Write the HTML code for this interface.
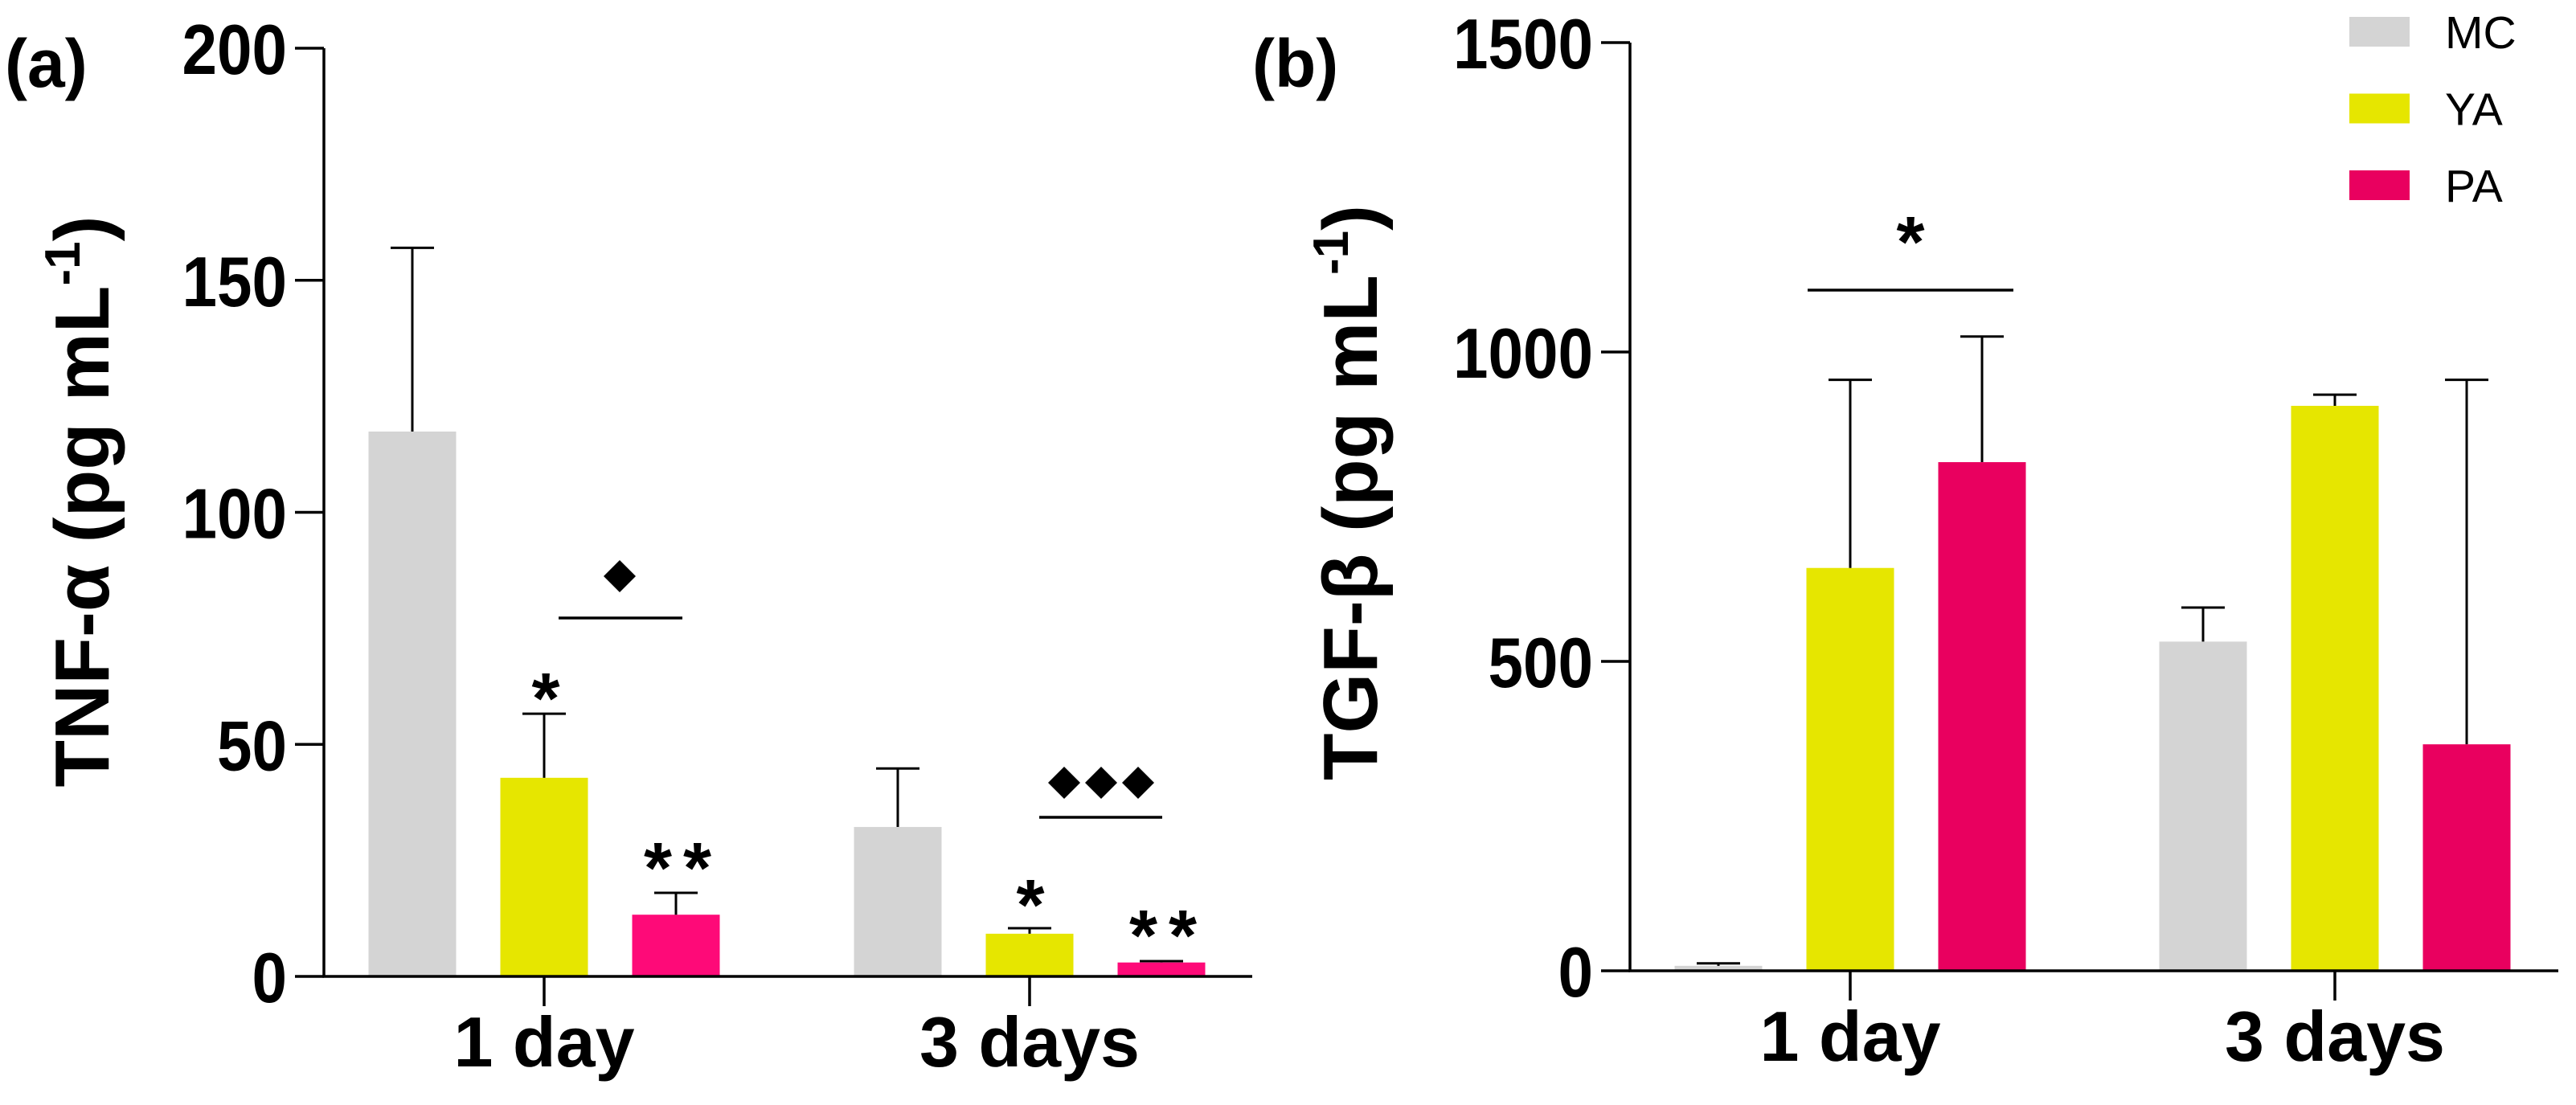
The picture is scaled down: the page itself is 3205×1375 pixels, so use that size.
<!DOCTYPE html>
<html><head><meta charset="utf-8"><style>
html,body{margin:0;padding:0;background:#fff;}
svg{display:block;font-family:"Liberation Sans",Arial,sans-serif;}
</style></head><body>
<svg id="chart" width="3205" height="1375" viewBox="0 0 3205 1375" xmlns="http://www.w3.org/2000/svg">
<g id="panelA"></g>
<g id="panelB"></g>
</svg>
<script>
const categories = ["1 day", "3 days"];
const seriesNames = ["MC", "YA", "PA"];
const tnfValues = [[117.4, 32.2], [42.8, 9.2], [13.3, 3.0]];
const tnfErrors = [[157, 44.8], [56.6, 10.4], [18, 3.3]];
const tnfTicks = [0, 50, 100, 150, 200];
const tgfValues = [[8, 532], [651, 913], [822, 366]];
const tgfErrors = [[12, 587], [955, 931], [1025, 955]];
const tgfTicks = [0, 500, 1000, 1500];

const NS = "http://www.w3.org/2000/svg";
function mk(parent, tag, attrs, text) {
  const e = document.createElementNS(NS, tag);
  for (const k in attrs) e.setAttribute(k, attrs[k]);
  if (text !== undefined) e.textContent = text;
  parent.appendChild(e);
  return e;
}

function drawPanel(g, cfg) {
  const y = v => cfg.y0 - (v - 0) / cfg.max * (cfg.y0 - cfg.yTop);
  const x = i => cfg.cx0 + i * cfg.gap;
  for (let s = 0; s < 3; s++) {
    for (let c = 0; c < categories.length; c++) {
      const cx = x(c) + (s - 1) * 164;
      const v = cfg.values[s][c], ev = cfg.errors[s][c];
      const b = mk(g, "rect", {x: cx - 54.5, y: y(v), width: 109, height: cfg.y0 - y(v), fill: cfg.colors[s]});
      
      
      const eb = mk(g, "path", {d: `M${cx} ${y(v)}V${y(ev)}M${cx-27} ${y(ev)}H${cx+27}`, stroke: "#000", "stroke-width": 3, fill: "none"});
      
      
    }
  }
  const ax = mk(g, "path", {d: `M${cfg.ax} ${cfg.yTop}V${cfg.y0}H${cfg.xEnd}`, stroke: "#000", "stroke-width": 3.5, fill: "none"});
  
  
  cfg.ticks.forEach(t => {
    const tk = mk(g, "line", {x1: cfg.ax - 36, x2: cfg.ax, y1: y(t), y2: y(t), stroke: "#000", "stroke-width": 3.5});
    
    
    const s = String(t);
    const lb = mk(g, "text", {x: cfg.ax - 46, y: y(t) + 32, "text-anchor": "end", "font-size": 88, "font-weight": "bold", textLength: s.length * 43.5, lengthAdjust: "spacingAndGlyphs"}, s);
    
    
  });
  categories.forEach((c, i) => {
    const tk = mk(g, "line", {x1: x(i), x2: x(i), y1: cfg.y0, y2: cfg.y0 + 37, stroke: "#000", "stroke-width": 3.5});
    
    
    const lb = mk(g, "text", {x: x(i), y: cfg.y0 + 112, "text-anchor": "middle", "font-size": 88, "font-weight": "bold"}, c);
    
    
  });
  const tt = mk(g, "text", {transform: `translate(${cfg.titleX},${cfg.titleY}) rotate(-90)`, "text-anchor": "middle", "font-size": 96, "font-weight": "bold"});
  
  
  mk(tt, "tspan", {}, cfg.title);
  mk(tt, "tspan", {"font-size": 62, dy: -36}, "-1");
  mk(tt, "tspan", {dy: 36}, ")");
  const pl = mk(g, "text", {x: cfg.labelX, y: 108, "font-size": 84, "font-weight": "bold"}, cfg.label);
  
  
}

const gA = document.getElementById("panelA");
drawPanel(gA, {y0: 1215, yTop: 60, max: 200, ax: 403, xEnd: 1558, cx0: 677, gap: 604,
  values: tnfValues, errors: tnfErrors, ticks: tnfTicks,
  colors: ["#d4d4d4", "#e6e600", "#fe0a78"], title: "TNF-α (pg mL", titleX: 135, titleY: 624,
  label: "(a)", labelX: 6});
const gB = document.getElementById("panelB");
drawPanel(gB, {y0: 1208, yTop: 53, max: 1500, ax: 2028, xEnd: 3183, cx0: 2302, gap: 603,
  values: tgfValues, errors: tgfErrors, ticks: tgfTicks,
  colors: ["#d4d4d4", "#e6e600", "#e9005f"], title: "TGF-β (pg mL", titleX: 1713, titleY: 613,
  label: "(b)", labelX: 1558});

function star(g, x, cy, txt) {
  const t = mk(g, "text", {x: x, y: cy + 47, "text-anchor": "middle", "font-size": 90, "font-weight": "bold", "letter-spacing": txt.length > 1 ? 14 : 0}, txt);
  
  
}
function diamonds(g, cx, cy, n) {
  for (let i = 0; i < n; i++) {
    const x = cx + (i - (n - 1) / 2) * 46;
    const d = mk(g, "path", {d: `M${x} ${cy-20}L${x+20} ${cy}L${x} ${cy+20}L${x-20} ${cy}Z`, fill: "#000"});
    
    
  }
}
function sigLine(g, x1, x2, y) {
  const l = mk(g, "line", {x1: x1, x2: x2, y1: y, y2: y, stroke: "#000", "stroke-width": 3.5});
  
  
}
diamonds(gA, 771, 717, 1); sigLine(gA, 695, 849, 769);
diamonds(gA, 1370, 974, 3); sigLine(gA, 1293, 1446, 1017);
star(gA, 679, 853, "*"); star(gA, 850, 1064, "**");
star(gA, 1282, 1110, "*"); star(gA, 1454, 1148, "**");
sigLine(gB, 2249, 2505, 361); star(gB, 2377, 285, "*");

const leg = mk(document.getElementById("chart"), "g", {});


const legColors = ["#d4d4d4", "#e6e600", "#e9005f"];
seriesNames.forEach((n, i) => {
  const yy = 21 + i * 95.5;
  const e = mk(leg, "g", {});
  
  
  mk(e, "rect", {x: 2923, y: yy, width: 75, height: 37, fill: legColors[i]});
  mk(e, "text", {x: 3042, y: yy + 39, "font-size": 57}, n);
});
</script>
</body></html>
